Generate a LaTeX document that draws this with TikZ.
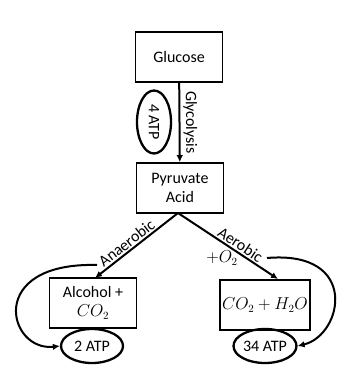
\documentclass[tikz,border=0pt]{standalone}
\usepackage{fontspec}
\setmainfont{Carlito}
\usetikzlibrary{arrows.meta,shapes.geometric}
\tikzset{
  box/.style={draw, line width=1.6pt, minimum width=87pt, minimum height=50pt, align=center, inner sep=2pt},
  atp/.style={draw, ellipse, line width=2.3pt, minimum width=62pt, minimum height=34pt, inner sep=0pt},
  flow/.style={line width=2pt, -{Latex[length=7pt,width=6.5pt]}}
}
\begin{document}
\begin{tikzpicture}[x=1pt,y=-1pt,font=\fontsize{16}{19}\selectfont]
            \useasboundingbox (0,0) rectangle (337,366);
            \node[box] (glucose) at (179,57) {Glucose};
            \node[box] (pyruvate) at (180,188) {Pyruvate\\Acid};
            \node[box] (alcohol) at (93,303) {Alcohol +\\$CO_2$};
            \node[box] (water) at (265,305) {$CO_2+H_2O$};
            \node[atp, rotate=-90, minimum width=63pt] (glyatp) at (154,122) {4 ATP};
            \node[atp] (twoatp) at (92,346) {2 ATP};
            \node[atp, minimum width=63pt] (bigatp) at (265,346) {34 ATP};
            \coordinate (pyrbase) at (178,213);
            \coordinate (alctop) at (95,278);
            \coordinate (watertop) at (278,279);
            \coordinate (anstart) at (97,265);
            \coordinate (aerstart) at (267,258);
            \draw[flow] (glucose) -- (pyruvate) node[midway, above, sloped, inner sep=3pt] {Glycolysis};
            \draw[flow] (pyrbase) -- (alctop) node[pos=0.56, above, sloped, inner sep=1.5pt] {Anaerobic};
            \draw[flow] (pyrbase) -- (watertop) node[pos=0.58, above, sloped, inner sep=1.5pt] {Aerobic};
            \node (oxygen) at (222,258) {$+O_2$};
            \draw[flow] (anstart) .. controls (-15,262) and (8,352) .. (twoatp.west);
            \draw[flow] (aerstart) .. controls (360,250) and (343,335) .. (bigatp.east);
\end{tikzpicture}
\end{document}
